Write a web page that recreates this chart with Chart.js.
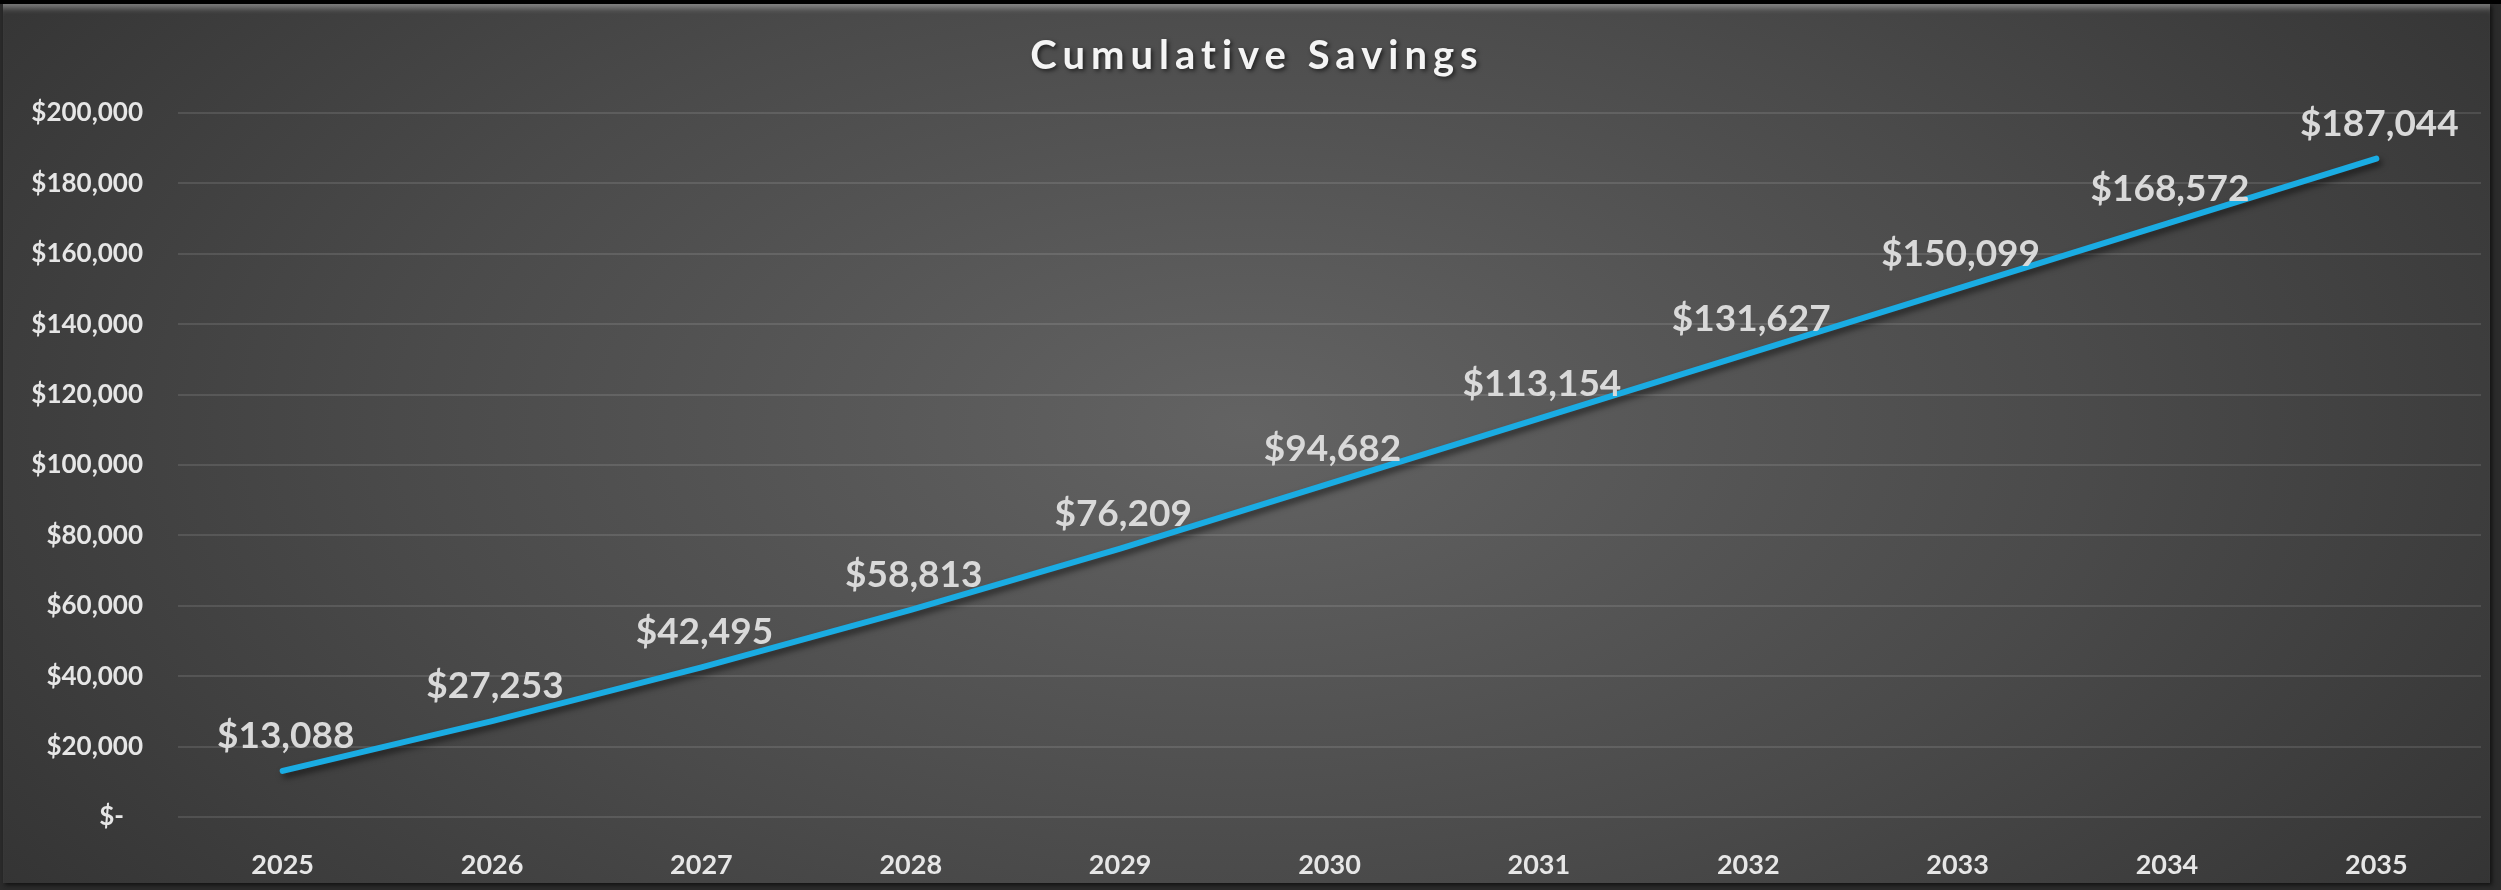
<!DOCTYPE html>
<html>
<head>
<meta charset="utf-8">
<script src="https://cdn.jsdelivr.net/npm/chart.js@4.4.1/dist/chart.umd.min.js"></script>
<style>
  html, body { margin: 0; padding: 0; background: #2b2b2b; overflow: hidden; }
  #frame {
    position: absolute; left: 3px; top: 4px; width: 2487px; height: 879px;
    background: radial-gradient(ellipse 62% 95% at 50% 48%, #636363 0%, #4a4a4a 55%, #333333 100%);
    box-shadow: inset 0 9px 6px -5px rgba(255,255,255,0.35), 2px 2px 4px #111;
  }
  #topbar { position: absolute; left: 0; top: 0; width: 2501px; height: 4px; background: #000; }
  #chart { position: absolute; left: 0; top: 0; }
</style>
</head>
<body>
<div id="topbar"></div>
<div id="frame"></div>
<canvas id="chart" width="2501" height="890"></canvas>
<script>
const years = ['2025', '2026', '2027', '2028', '2029', '2030', '2031', '2032', '2033', '2034', '2035'];
const savings = [13088, 27253, 42495, 58813, 76209, 94682, 113154, 131627, 150099, 168572, 187044];
const yTickLabels = ['$-   ', '$20,000', '$40,000', '$60,000', '$80,000', '$100,000',
                     '$120,000', '$140,000', '$160,000', '$180,000', '$200,000'];
const chartTitle = 'Cumulative Savings';

// title with letter spacing, drawn by hand since the built-in title can't space letters
const titlePlugin = {
  id: 'spacedTitle',
  afterDraw(chart) {
    const ctx = chart.ctx;
    ctx.save();
    ctx.font = 'bold 40px Lato';
    ctx.letterSpacing = '6px';
    ctx.fillStyle = '#f4f4f4';
    ctx.textAlign = 'center';
    ctx.textBaseline = 'alphabetic';
    ctx.shadowColor = 'rgba(0,0,0,0.6)';
    ctx.shadowBlur = 4;
    ctx.shadowOffsetX = 2;
    ctx.shadowOffsetY = 2;
    ctx.fillText(chartTitle, 1257, 69);
    ctx.restore();
  }
};

const lineShadow = {
  id: 'lineShadow',
  beforeDatasetsDraw(chart) {
    const ctx = chart.ctx;
    ctx.save();
    ctx.shadowColor = 'rgba(0,0,0,0.55)';
    ctx.shadowBlur = 6;
    ctx.shadowOffsetX = 3;
    ctx.shadowOffsetY = 4;
  },
  afterDatasetsDraw(chart) {
    chart.ctx.restore();
  }
};

const valueLabels = {
  id: 'valueLabels',
  afterDatasetsDraw(chart) {
    const ctx = chart.ctx;
    const meta = chart.getDatasetMeta(0);
    ctx.save();
    ctx.font = 'bold 37px Lato';
    ctx.fillStyle = '#d9d9d9';
    ctx.textAlign = 'center';
    ctx.textBaseline = 'alphabetic';
    meta.data.forEach((pt, i) => {
      const txt = '$' + savings[i].toLocaleString('en-US');
      ctx.fillText(txt, pt.x + 3, pt.y - 23);
    });
    ctx.restore();
  }
};

const ctx = document.getElementById('chart').getContext('2d');
new Chart(ctx, {
  type: 'line',
  data: {
    labels: years,
    datasets: [{
      data: savings,
      borderColor: '#1aace3',
      borderWidth: 6,
      borderCapStyle: 'round',
      borderJoinStyle: 'round',
      pointRadius: 0,
      tension: 0,
      fill: false
    }]
  },
  options: {
    responsive: false,
    animation: false,
    layout: { padding: { top: 113, right: 20, bottom: 0, left: 0 } },
    plugins: {
      legend: { display: false },
      title: { display: false },
      tooltip: { enabled: false }
    },
    scales: {
      x: {
        offset: true,
        grid: { display: false },
        border: { display: false },
        ticks: {
          color: '#e6e6e6',
          font: { family: 'Lato', size: 27, weight: 'bold' },
          padding: 24,
          maxRotation: 0
        },
        afterFit(scale) { scale.height = 73; }
      },
      y: {
        min: 0,
        max: 200000,
        border: { display: false },
        grid: { color: 'rgba(255,255,255,0.11)', lineWidth: 2, drawTicks: false },
        ticks: {
          stepSize: 20000,
          color: '#e6e6e6',
          font: { family: 'Lato', size: 26, weight: 'bold' },
          padding: 35,
          callback: (v, i) => yTickLabels[i]
        },
        afterFit(scale) { scale.width = 178; }
      }
    }
  },
  plugins: [titlePlugin, lineShadow, valueLabels]
});
</script>
</body>
</html>
